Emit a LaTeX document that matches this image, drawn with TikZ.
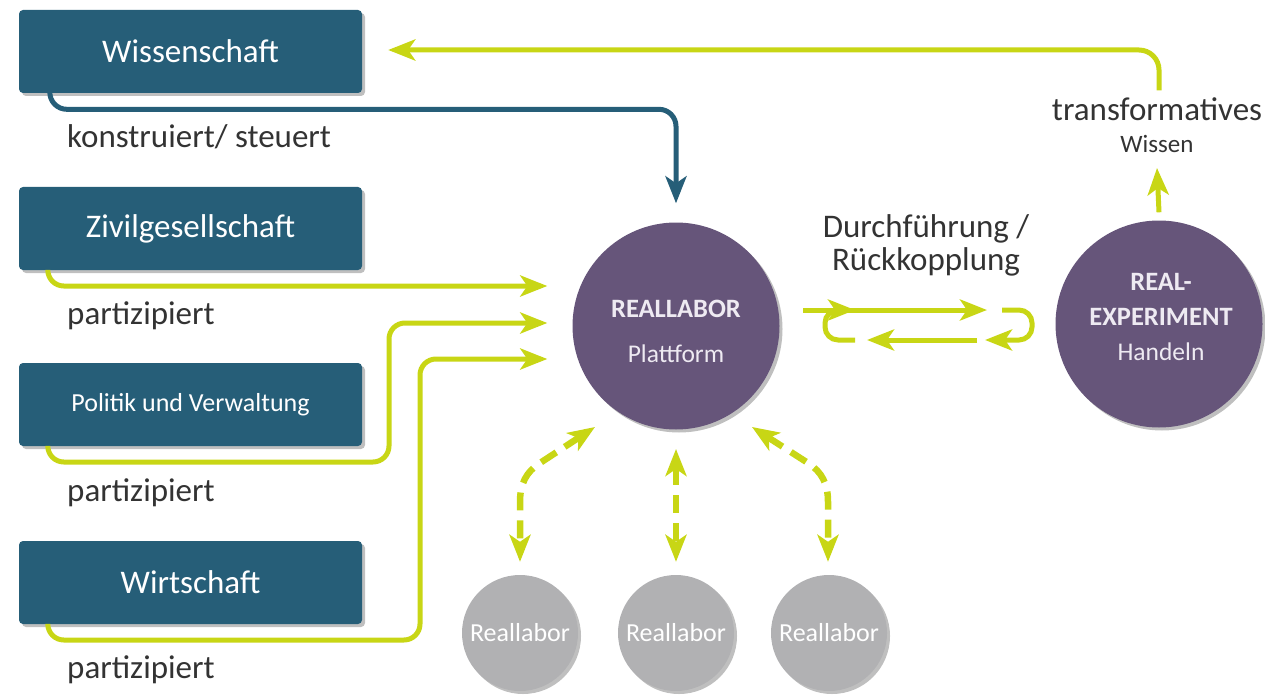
\documentclass[tikz,border=0pt]{standalone}
\usepackage{fontspec}
\setmainfont{Carlito}
\usetikzlibrary{arrows.meta,shadows,calc}
\definecolor{boxblue}{HTML}{265E78}
\definecolor{lime}{HTML}{C8D615}
\definecolor{violet}{HTML}{66557A}
\definecolor{greyc}{HTML}{B1B1B3}
\definecolor{txt}{HTML}{333333}
\definecolor{ctxt}{HTML}{EEEAF2}
\tikzset{
  shad/.style={drop shadow={shadow xshift=3pt,shadow yshift=-3pt,opacity=0.25,fill=black}},
  box/.style={fill=boxblue, rounded corners=4pt, minimum width=343pt, minimum height=83pt,
    inner sep=0pt, text=white, font=\fontsize{33}{38}\selectfont, shad},
  bigc/.style={circle, fill=violet, minimum size=207pt, inner sep=0pt, shad},
  smallc/.style={circle, fill=greyc, minimum size=116pt, inner sep=0pt, text=white,
    font=\fontsize{26}{30}\selectfont, shad},
  lbl/.style={text=txt, font=\fontsize{33}{38}\selectfont, inner sep=0pt},
  ctext/.style={text=ctxt, inner sep=0pt, font=\fontsize{25.5}{28}\selectfont},
  ctextb/.style={ctext, font=\fontsize{26.5}{28}\selectfont\bfseries},
  tipg/.style={-{Stealth[length=27pt,width=21pt,inset=7pt]}},
  garrow/.style={draw=lime, line width=5pt, tipg, rounded corners=16pt},
  barrow/.style={draw=boxblue, line width=5pt, -{Stealth[length=27pt,width=21pt,inset=7pt]}, rounded corners=17pt},
  darrow/.style={draw=lime, line width=6.5pt, dash pattern=on 18pt off 10pt,
    {Stealth[length=27pt,width=21pt,inset=7pt]}-{Stealth[length=27pt,width=21pt,inset=7pt]}},
  loopg/.style={draw=lime, line width=5pt, tipg, rounded corners=13pt},
}
\begin{document}
\begin{tikzpicture}[x=1pt,y=-1pt]
\useasboundingbox (0,0) rectangle (1265,695);

% boxes
\node[box] (ws) at (190.5,51.5) {Wissenschaft};
\node[box] (zg) at (190.5,228.5) {Zivilgesellschaft};
\node[box, font=\fontsize{26}{30}\selectfont] (pv) at (190.5,404.5) {Politik und Verwaltung};
\node[box] (wt) at (190.5,582.5) {Wirtschaft};

% labels under boxes
\node[lbl, anchor=base west] (l1) at (67,148) {konstruiert/ steuert};
\node[lbl, anchor=base west] (l2) at (67,324) {partizipiert};
\node[lbl, anchor=base west] (l3) at (67,501) {partizipiert};
\node[lbl, anchor=base west] (l4) at (67,678) {partizipiert};

% circles
\node[bigc] (rl) at (676,326) {};
\node[ctextb, anchor=base] (rlt) at (676,317) {REALLABOR};
\node[ctext, anchor=base] (rlp) at (676,362) {Plattform};

\node[bigc] (re) at (1159,324) {};
\node[ctextb, anchor=base] (re1) at (1161,290) {REAL-};
\node[ctextb, anchor=base] (re2) at (1161,325) {EXPERIMENT};
\node[ctext, anchor=base] (re3) at (1161,360) {Handeln};

\node[smallc] (s1) at (520,633) {Reallabor};
\node[smallc] (s2) at (676,633) {Reallabor};
\node[smallc] (s3) at (829,633) {Reallabor};

% texts right
\node[lbl, anchor=base] (tf) at (1157,121) {transformatives};
\node[lbl, anchor=base, font=\fontsize{25}{28}\selectfont] (wi) at (1157,153) {Wissen};
\node[lbl, anchor=base] (d1) at (926,237) {Durchführung /};
\node[lbl, anchor=base] (d2) at (926,270) {Rückkopplung};

% Wissenschaft -> Reallabor
\draw[barrow] ($(ws.south west)+(31,0)$) |- ($(rl.north)+(0,-113)$) -- ($(rl.north)+(0,-19)$);

% participation arrows
\draw[garrow] ($(zg.south west)+(29,0)$) |- ($(rl.west)+(-25,-40)$);
\draw[garrow] ($(pv.south west)+(29,0)$) |- (389,462) |- ($(rl.west)+(-25,-3)$);
\draw[garrow] ($(wt.south west)+(29,0)$) |- (420,640) |- ($(rl.west)+(-25,33)$);

% transformatives Wissen -> Wissenschaft
\draw[garrow, rounded corners=20pt] ($(re.north)+(0,-130)$) |- ($(ws.east)+(26,-1.5)$);
\draw[draw=lime, line width=5pt, tipg] ($(re.north)+(0,-8)$) -- (wi.south |- 0,168);

% feedback loop
\coordinate (a1) at (803,310);
\coordinate (a2) at (987,310);
\coordinate (b1) at (855,340);
\coordinate (b2) at (855,310);
\coordinate (c1) at (1002,310);
\coordinate (c2) at (985,340);
\coordinate (e1) at (977,340);
\coordinate (e2) at (867,340);
\draw[draw=lime, line width=5pt, tipg] (a1) -- (a2);
\draw[loopg] (b1) -- (825,340) -- (825,310) -- (b2);
\draw[loopg] (c1) -- (1032,310) -- (1032,340) -- (c2);
\draw[draw=lime, line width=5pt, tipg] (e1) -- (e2);

% dashed links to small Reallabore
\draw[darrow] (595,427) -- (540,463) .. controls (526,472) and (520,484) .. (520,502) -- ($(s1.north)+(0,-13)$);
\draw[darrow] (676,449) -- ($(s2.north)+(0,-13)$);
\draw[darrow] (752,427) -- (808,463) .. controls (822,472) and (828,484) .. (828,502) -- ($(s3.north)+(-1,-13)$);
\end{tikzpicture}
\end{document}
